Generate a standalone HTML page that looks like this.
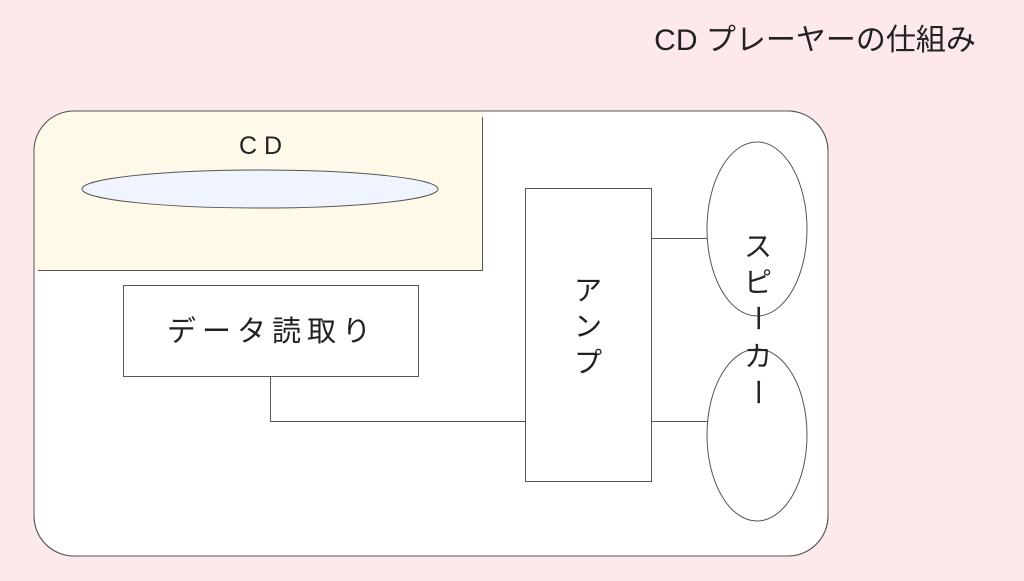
<!DOCTYPE html>
<html><head><meta charset="utf-8"><style>
body{margin:0;width:1024px;height:576px;background:#fde8ec;overflow:hidden}
svg text{font-family:"Liberation Sans","Noto Sans CJK JP",sans-serif;fill:#222}
</style></head><body>
<svg width="1024" height="576" xmlns="http://www.w3.org/2000/svg">
<defs><clipPath id="c"><rect x="34" y="111" width="794" height="445" rx="40"/></clipPath></defs>
<rect x="34" y="111" width="794" height="445" rx="40" fill="#fff" stroke="#555" stroke-width="1"/>
<rect x="34" y="111" width="449" height="160" fill="#fef9e8" clip-path="url(#c)"/>
<path d="M482.5 117 V270.5 H38" fill="none" stroke="#555"/>
<path d="M34 151 A40 40 0 0 1 74 111 H788 A40 40 0 0 1 828 151 V516 A40 40 0 0 1 788 556 H74 A40 40 0 0 1 34 516 Z" fill="none" stroke="#555"/>
<text x="264" y="154" font-size="25" text-anchor="middle" letter-spacing="7">CD</text>
<ellipse cx="260" cy="189" rx="178" ry="19" fill="#f0f4fe" stroke="#555"/>
<rect x="123.5" y="285.5" width="295" height="91" fill="#fff" stroke="#555"/>
<text x="272" y="341" font-size="29" text-anchor="middle" letter-spacing="6">データ読取り</text>
<rect x="525.5" y="188.5" width="126" height="293" fill="#fff" stroke="#555"/>
<text x="588" y="300" font-size="28" text-anchor="middle">ア</text>
<text x="588" y="336" font-size="28" text-anchor="middle">ン</text>
<text x="588" y="372" font-size="28" text-anchor="middle">プ</text>
<path d="M270.5 376 V421.5 H525 M651 238.5 H708 M651 421.5 H708" fill="none" stroke="#555"/>
<ellipse cx="757" cy="229" rx="50" ry="87" fill="#fff" stroke="#555"/>
<ellipse cx="757" cy="435" rx="50" ry="86" fill="#fff" stroke="#555"/>
<g font-size="28" text-anchor="middle">
<text x="758" y="256">ス</text>
<text x="758" y="292">ピ</text>
<text x="758" y="328" transform="rotate(90 758 318)">ー</text>
<text x="758" y="366">カ</text>
<text x="758" y="402" transform="rotate(90 758 392)">ー</text>
</g>
<text x="815" y="50" font-size="30" text-anchor="middle">CD プレーヤーの仕組み</text>
</svg>
</body></html>
